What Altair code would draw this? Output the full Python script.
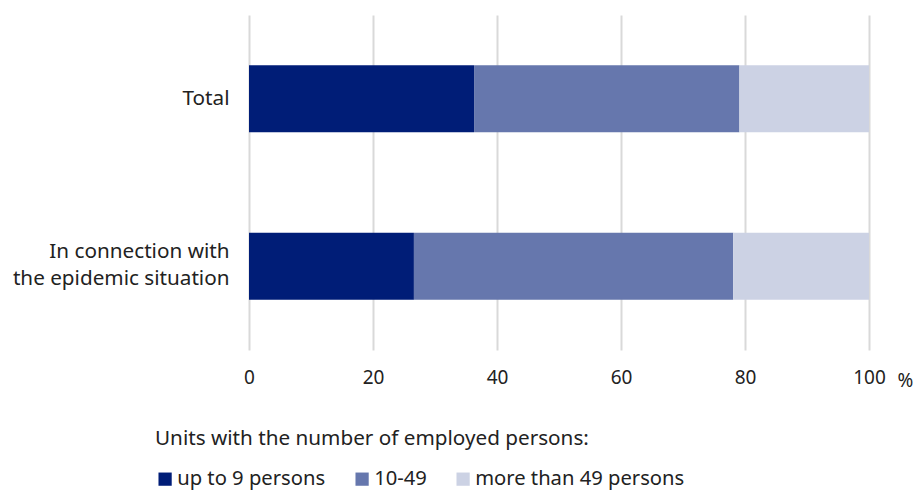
import altair as alt
import pandas as pd

categories = ["Total", "In connection with\nthe epidemic situation"]
series = ["up to 9 persons", "10-49", "more than 49 persons"]
values = {
    "up to 9 persons": [36.3, 26.6],
    "10-49": [42.8, 51.5],
    "more than 49 persons": [20.9, 21.9],
}
colors = ["#001D77", "#6677AD", "#CCD2E4"]
x_ticks = [0, 20, 40, 60, 80, 100]

rows = []
for si, s in enumerate(series):
    for ci, c in enumerate(categories):
        rows.append({"category": c, "series": s, "value": values[s][ci], "order": si})
df = pd.DataFrame(rows)

FONT = "Noto Sans"
FS = 20.7
FSN = 19
TXT = "#222222"

chart = alt.Chart(df).mark_bar().encode(
    y=alt.Y("category:N", sort=categories,
            scale=alt.Scale(paddingInner=0.6, paddingOuter=0.3),
            axis=alt.Axis(title=None, ticks=False, domain=False, labelFontSize=FS,
                          labelColor=TXT, labelPadding=20, labelLineHeight=27,
                          labelLimit=0,
                          labelOffset={"condition": {"test": "indexof(datum.label, '\\n') >= 0",
                                                     "value": -14}, "value": 0},
                          labelExpr="split(datum.label, '\\n')", labelFont=FONT, grid=False)),
    x=alt.X("value:Q", stack="zero",
            scale=alt.Scale(domain=[0, 100], nice=False),
            axis=alt.Axis(values=x_ticks, title="%", titleAngle=0, titleX=656, titleY=21,
                          titleFontSize=FSN, titleFontWeight="normal", titleColor=TXT,
                          titleFont=FONT, titleAlign="center",
                          ticks=False, domain=False, labelFontSize=FSN, labelColor=TXT,
                          labelPadding=18, labelFont=FONT, labelFlush=False,
                          grid=True, gridColor="#d9d9d9", gridWidth=2)),
    color=alt.Color("series:N", sort=series,
                    scale=alt.Scale(domain=series, range=colors),
                    legend=alt.Legend(title="Units with the number of employed persons:",
                                      orient="none", legendX=-94, legendY=414,
                                      direction="horizontal", titleOrient="top",
                                      symbolType="square", symbolSize=175,
                                      symbolStrokeWidth=0, titleFontSize=FS,
                                      titleFontWeight="normal", titleColor=TXT,
                                      titleFont=FONT, labelFont=FONT, labelFontSize=20.2,
                                      labelColor=TXT, titlePadding=19, titleLimit=0,
                                      labelLimit=0, columnPadding=26, labelOffset=2)),
    order=alt.Order("order:Q"),
).properties(
    width=620, height=335,
    autosize=alt.AutoSizeParams(type="none"),
    padding={"left": 249, "top": 15, "right": 47, "bottom": 140},
).configure_view(stroke=None)

chart.save("out.html", embed_options={"renderer": "svg", "actions": False})
